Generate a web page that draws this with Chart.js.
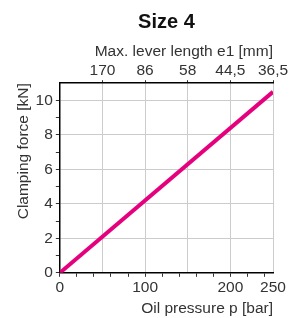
<!DOCTYPE html>
<html>
<head>
<meta charset="utf-8">
<script src="https://cdn.jsdelivr.net/npm/chart.js@4"></script>
<style>
  body { margin: 0; background: #fff; }
</style>
</head>
<body>
<canvas id="myChart" width="298" height="318"></canvas>
<script>
// data
var pressure = [0, 250];
var force = [0, 10.5];
var pressureTicks = [0, 20, 40, 50, 60, 80, 100, 120, 140, 150, 160, 180, 200, 220, 240, 250];
var pressureLabels = [0, 100, 200, 250];
var leverTicks = [50, 100, 150, 200, 250];
var leverLabels = ['170', '86', '58', '44,5', '36,5'];
var forceTicks = [0, 1, 2, 3, 4, 5, 6, 7, 8, 9, 10];
var forceLabels = [0, 2, 4, 6, 8, 10];

var font = { family: 'Liberation Sans', size: 15.5 };
var txt = '#333';
var gridGray = '#cccccc';

var ctx = document.getElementById('myChart').getContext('2d');
var myChart = new Chart(ctx, {
  type: 'scatter',
  data: {
    datasets: [{
      data: pressure.map(function (p, i) { return { x: p, y: force[i] }; }),
      showLine: true,
      borderColor: '#E5007D',
      borderWidth: 4,
      pointRadius: 0,
      xAxisID: 'x',
      yAxisID: 'y'
    }]
  },
  options: {
    responsive: false,
    animation: false,
    layout: { padding: { left: 14, right: 25, top: 4, bottom: 0 } },
    plugins: {
      legend: { display: false },
      tooltip: { enabled: false },
      title: {
        display: true,
        text: 'Size 4',
        fullSize: false,
        color: '#111',
        font: { family: 'Liberation Sans', size: 20, weight: 'bold' },
        padding: { top: 6, bottom: 8 }
      }
    },
    scales: {
      x: {
        type: 'linear',
        position: 'bottom',
        min: 0,
        max: 250,
        afterBuildTicks: function (s) {
          s.ticks = pressureTicks.map(function (v) { return { value: v }; });
        },
        ticks: {
          autoSkip: false,
          maxRotation: 0,
          color: txt,
          font: font,
          padding: 2,
          callback: function (v) { return pressureLabels.indexOf(v) >= 0 ? String(v) : ''; }
        },
        grid: {
          color: function (c) {
            return c.tick && c.tick.value > 0 && c.tick.value % 50 === 0 ? gridGray : 'rgba(0,0,0,0)';
          },
          tickColor: function (c) {
            return c.tick && c.tick.value % 20 === 0 ? '#333' : 'rgba(0,0,0,0)';
          },
          tickLength: 4
        },
        border: { color: '#000', width: 1.5 },
        title: {
          display: true,
          text: 'Oil pressure p [bar]',
          align: 'end',
          color: txt,
          font: font,
          padding: { top: 0, bottom: 0 }
        }
      },
      xTop: {
        type: 'linear',
        position: 'top',
        min: 0,
        max: 250,
        afterBuildTicks: function (s) {
          s.ticks = leverTicks.map(function (v) { return { value: v }; });
        },
        ticks: {
          autoSkip: false,
          maxRotation: 0,
          color: txt,
          font: font,
          padding: 0,
          callback: function (v, i) { return leverLabels[i]; }
        },
        grid: { drawOnChartArea: false, tickColor: '#333', tickLength: 3 },
        border: { color: '#000', width: 1.5 },
        title: {
          display: true,
          text: 'Max. lever length e1 [mm]',
          align: 'end',
          color: txt,
          font: font,
          padding: { top: 0, bottom: 1 }
        }
      },
      y: {
        type: 'linear',
        min: 0,
        max: 11,
        afterBuildTicks: function (s) {
          s.ticks = forceTicks.map(function (v) { return { value: v }; });
        },
        ticks: {
          autoSkip: false,
          color: txt,
          font: font,
          padding: 3,
          callback: function (v) { return forceLabels.indexOf(v) >= 0 ? String(v) : ''; }
        },
        grid: {
          color: function (c) {
            return c.tick && c.tick.value > 0 && c.tick.value % 2 === 0 ? gridGray : 'rgba(0,0,0,0)';
          },
          tickColor: '#333',
          tickLength: 4
        },
        border: { color: '#000', width: 1.5 },
        title: {
          display: true,
          text: 'Clamping force [kN]',
          align: 'end',
          color: txt,
          font: font,
          padding: { top: 0, bottom: 0 }
        }
      }
    }
  }
});
</script>
</body>
</html>
